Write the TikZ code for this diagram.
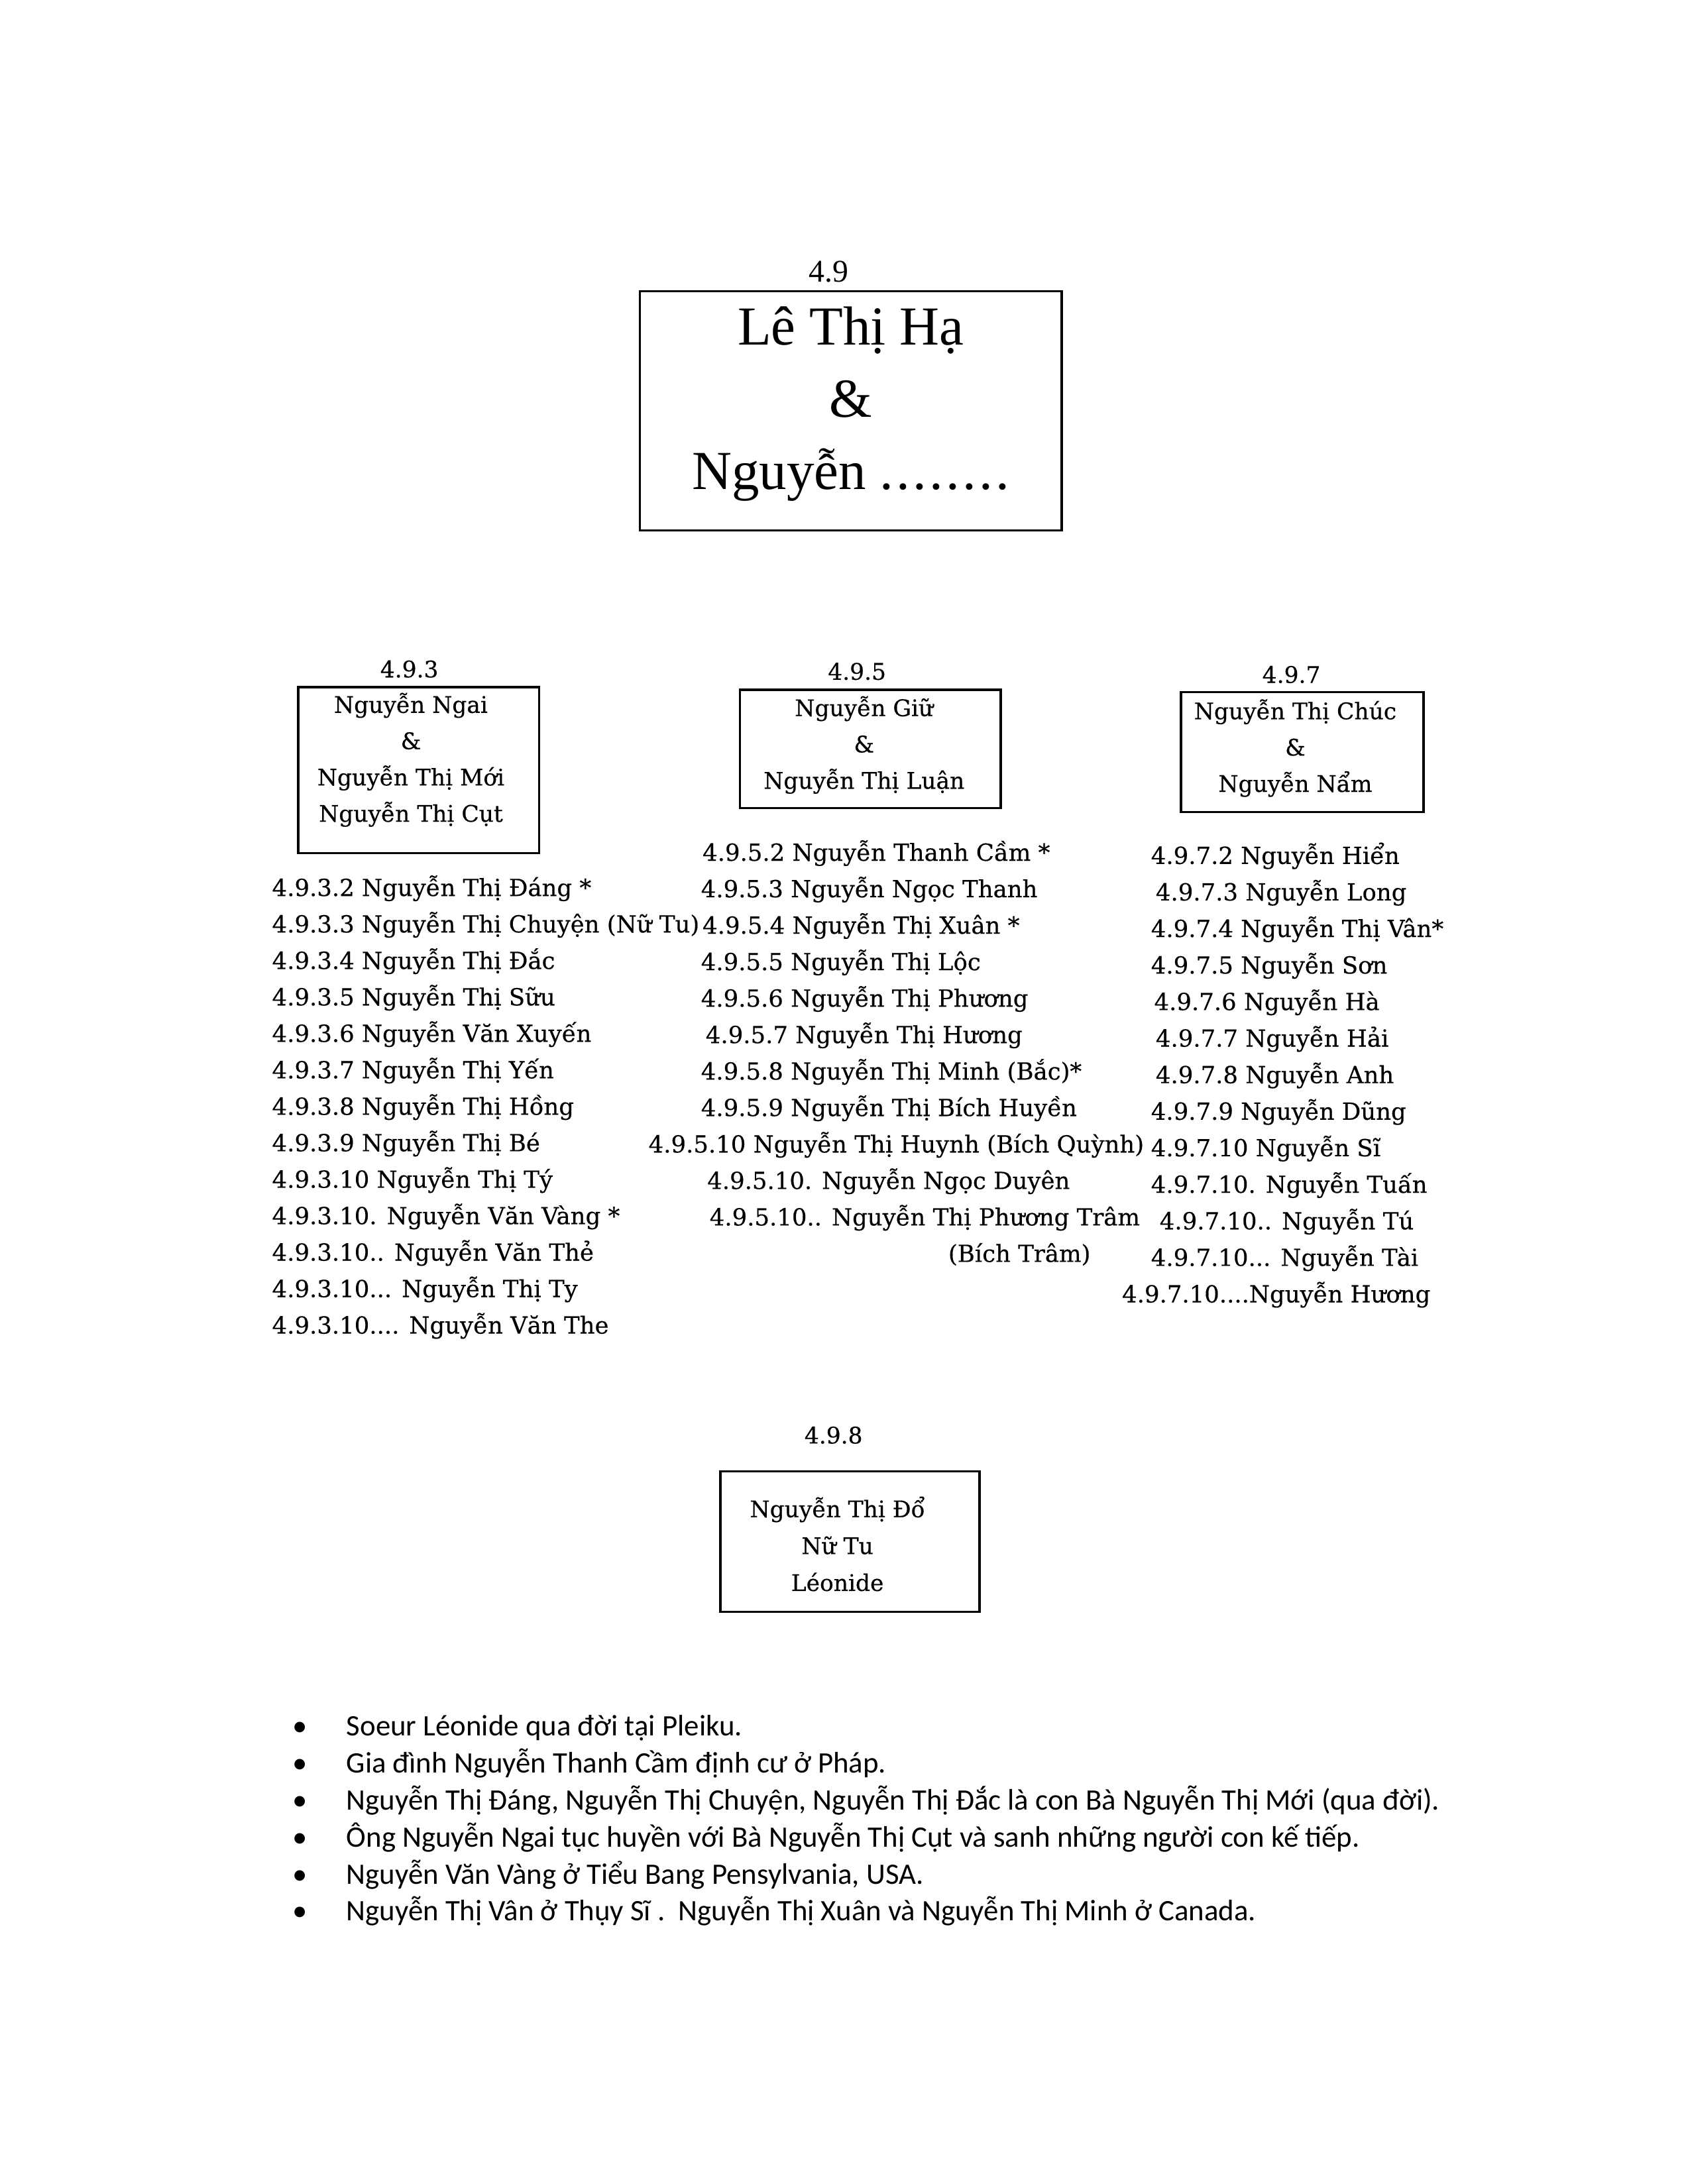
\documentclass[tikz,border=0pt]{standalone}
\usepackage{fontspec}
\setmainfont{DejaVu Serif}
\newfontfamily\titlefont{Liberation Serif}
\newfontfamily\listfont[FakeBold=0.4]{DejaVu Serif}
\newfontfamily\notefont{Carlito}
\usetikzlibrary{positioning}
\newcommand{\threedots}{...}
\tikzset{
    fambox/.style={draw,thick,inner sep=0pt},
    famtext/.style={align=center,inner sep=0pt,font=\listfont\fontsize{8.3}{13.2}\selectfont},
    famlabel/.style={inner sep=0pt,font=\listfont\fontsize{8.3}{10}\selectfont},
    child/.style={anchor=base west,inner sep=0pt,font=\listfont\fontsize{8.55}{10}\selectfont},
    note/.style={anchor=base west,inner sep=0pt,font=\notefont\fontsize{10.8}{13}\selectfont}
}

\begin{document}
\begin{tikzpicture}
    \useasboundingbox (0,0) rectangle (21.54,-27.91);

    % 4.9
    \node[inner sep=0pt,font=\titlefont\fontsize{11.5}{13}\selectfont] (lbl9) at (10.59,-3.47) {4.9};
    \node[fambox,minimum width=5.39cm,minimum height=3.06cm] (fam9) at (10.87,-5.25) {};
    \node[align=center,inner sep=0pt,font=\titlefont\fontsize{20}{26.2}\selectfont] (fam9txt) at (10.87,-5.16) {Lê Thị Hạ\\ \&\\ Nguyễn .\kern1pt.\kern1pt.\kern1pt.\kern1pt.\kern1pt.\kern1pt.\kern1pt.};

    % 4.9.3
    \node[famlabel] (lbl3) at (5.23,-8.55) {4.9.3};
    \node[fambox,minimum width=3.08cm,minimum height=2.12cm] (fam3) at (5.35,-9.84) {};
    \node[famtext] (fam3txt) at (5.25,-9.71) {Nguyễn Ngai\\ \&\\ Nguyễn Thị Mới\\ Nguyễn Thị Cụt};

    % 4.9.5
    \node[famlabel] (lbl5) at (10.95,-8.58) {4.9.5};
    \node[fambox,minimum width=3.33cm,minimum height=1.51cm] (fam5) at (11.12,-9.57) {};
    \node[famtext] (fam5txt) at (11.04,-9.52) {Nguyễn Giữ\\ \&\\ Nguyễn Thị Luận};

    % 4.9.7
    \node[famlabel] (lbl7) at (16.50,-8.62) {4.9.7};
    \node[fambox,minimum width=3.10cm,minimum height=1.53cm] (fam7) at (16.64,-9.61) {};
    \node[famtext] (fam7txt) at (16.55,-9.56) {Nguyễn Thị Chúc\\ \&\\ Nguyễn Nẩm};

    % con cua 4.9.3
    \foreach \txt [count=\i from 0] in {
        {4.9.3.2 Nguyễn Thị Đáng *},
        {4.9.3.3 Nguyễn Thị Chuyện (Nữ Tu)},
        {4.9.3.4 Nguyễn Thị Đắc},
        {4.9.3.5 Nguyễn Thị Sữu},
        {4.9.3.6 Nguyễn Văn Xuyến},
        {4.9.3.7 Nguyễn Thị Yến},
        {4.9.3.8 Nguyễn Thị Hồng},
        {4.9.3.9 Nguyễn Thị Bé},
        {4.9.3.10 Nguyễn Thị Tý},
        {4.9.3.10. Nguyễn Văn Vàng *},
        {4.9.3.10.. Nguyễn Văn Thẻ},
        {4.9.3.10\threedots{} Nguyễn Thị Ty},
        {4.9.3.10\threedots. Nguyễn Văn The}}
        \node[child] (c3-\i) at (3.47,{-11.45-0.466*\i}) {\txt};

    % con cua 4.9.5
    \foreach \x/\txt [count=\i from 0] in {
        8.97/{4.9.5.2 Nguyễn Thanh Cầm *},
        8.95/{4.9.5.3 Nguyễn Ngọc Thanh},
        8.97/{4.9.5.4 Nguyễn Thị Xuân *},
        8.95/{4.9.5.5 Nguyễn Thị Lộc},
        8.95/{4.9.5.6 Nguyễn Thị Phương},
        9.01/{4.9.5.7 Nguyễn Thị Hương},
        8.95/{4.9.5.8 Nguyễn Thị Minh (Bắc)*},
        8.95/{4.9.5.9 Nguyễn Thị Bích Huyền},
        8.28/{4.9.5.10 Nguyễn Thị Huynh (Bích Quỳnh)},
        9.03/{4.9.5.10. Nguyễn Ngọc Duyên},
        9.06/{4.9.5.10.. Nguyễn Thị Phương Trâm},
        12.11/{(Bích Trâm)}}
        \node[child] (c5-\i) at (\x,{-11.00-0.466*\i}) {\txt};

    % con cua 4.9.7
    \foreach \x/\txt [count=\i from 0] in {
        14.70/{4.9.7.2 Nguyễn Hiển},
        14.76/{4.9.7.3 Nguyễn Long},
        14.70/{4.9.7.4 Nguyễn Thị Vân*},
        14.70/{4.9.7.5 Nguyễn Sơn},
        14.74/{4.9.7.6 Nguyễn Hà},
        14.76/{4.9.7.7 Nguyễn Hải},
        14.76/{4.9.7.8 Nguyễn Anh},
        14.70/{4.9.7.9 Nguyễn Dũng},
        14.70/{4.9.7.10 Nguyễn Sĩ},
        14.70/{4.9.7.10. Nguyễn Tuấn},
        14.81/{4.9.7.10.. Nguyễn Tú},
        14.70/{4.9.7.10\threedots{} Nguyễn Tài},
        14.33/{4.9.7.10\threedots.Nguyễn Hương}}
        \node[child] (c7-\i) at (\x,{-11.04-0.467*\i}) {\txt};

    % 4.9.8
    \node[famlabel] (lbl8) at (10.65,-18.34) {4.9.8};
    \node[fambox,minimum width=3.31cm,minimum height=1.80cm] (fam8) at (10.86,-19.70) {};
    \node[famtext,font=\listfont\fontsize{8.3}{13.4}\selectfont] (fam8txt) at (10.70,-19.73) {Nguyễn Thị Đổ\\ Nữ Tu\\ Léonide};

    % ghi chu
    \foreach \txt [count=\i from 0] in {
        {Soeur Léonide qua đời tại Pleiku.},
        {Gia đình Nguyễn Thanh Cầm định cư ở Pháp.},
        {Nguyễn Thị Đáng, Nguyễn Thị Chuyện, Nguyễn Thị Đắc là con Bà Nguyễn Thị Mới (qua đời).},
        {Ông Nguyễn Ngai tục huyền với Bà Nguyễn Thị Cụt và sanh những người con kế tiếp.},
        {Nguyễn Văn Vàng ở Tiểu Bang Pensylvania, USA.},
        {Nguyễn Thị Vân ở Thụy Sĩ .\ \ Nguyễn Thị Xuân và Nguyễn Thị Minh ở Canada.}}
    {
        \node[note,anchor=base] (b-\i) at (3.83,{-22.18-0.4735*\i}) {•};
        \node[note] (n-\i) at (4.42,{-22.18-0.4735*\i}) {\txt};
    }
\end{tikzpicture}
\end{document}
